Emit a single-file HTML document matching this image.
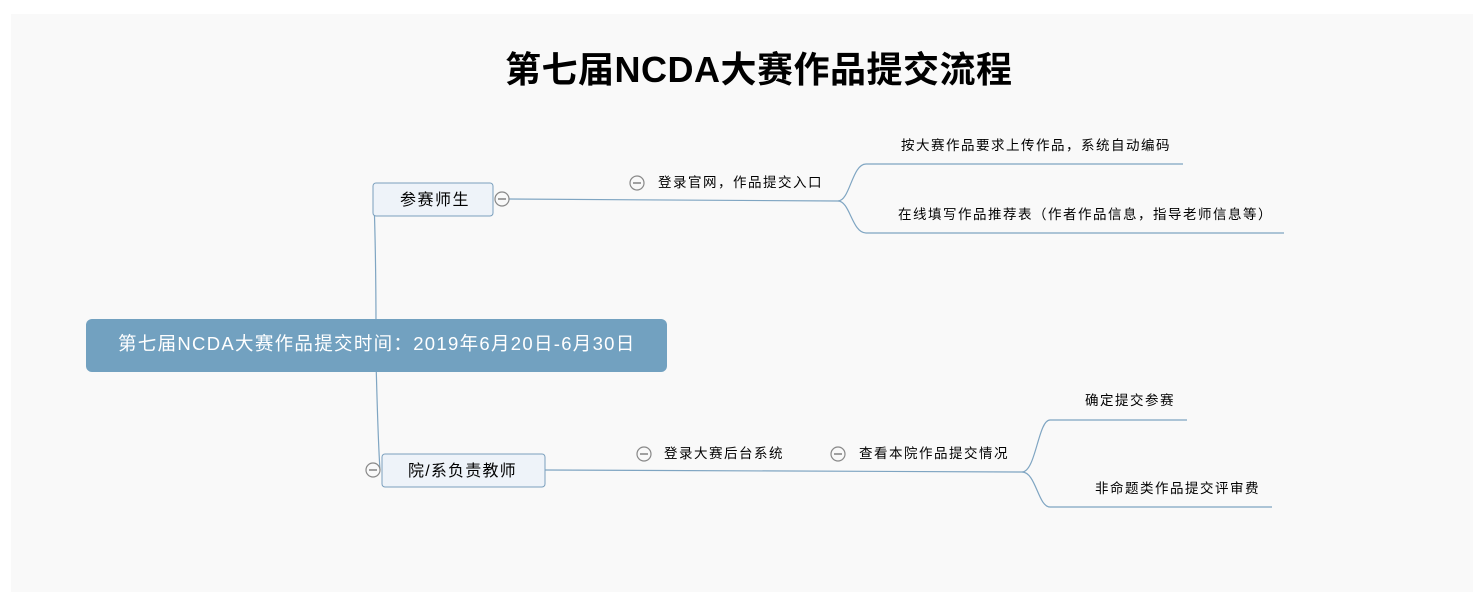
<!DOCTYPE html>
<html><head><meta charset="utf-8"><style>
body{margin:0;background:#fff;}
svg{display:block;font-family:"Liberation Sans","Noto Sans CJK SC",sans-serif;}
</style></head><body>
<svg width="1473" height="592" xmlns="http://www.w3.org/2000/svg">
<rect x="11" y="14" width="1462" height="578" fill="#f9f9f9"/>
<text x="505" y="82" font-size="36" font-weight="bold" fill="#000" letter-spacing="0.5">第七届NCDA大赛作品提交流程</text>
<g fill="none" stroke="#7fa5c2" stroke-width="1.2">
<path d="M374 199 C376 260 376 300 376 330"/>
<path d="M376 360 C377 400 378 440 380 470"/>
<path d="M502 199 L838 201 C850 201 852 164 866 164 L1183 164"/>
<path d="M838 201 C850 201 852 233 866 233 L1284 233"/>
<path d="M545 470 L1022 472 C1036 472 1038 420 1050 420 L1187 420"/>
<path d="M1022 472 C1036 472 1038 507 1050 507 L1272 507"/>
</g>
<rect x="86" y="319" width="581" height="53" rx="6" fill="#72a1c0"/>
<text x="118" y="350" font-size="18.5" fill="#fff" letter-spacing="1.3">第七届NCDA大赛作品提交时间：2019年6月20日-6月30日</text>
<rect x="373" y="183" width="120" height="33" rx="3" fill="#eef3f9" stroke="#7a9fbd"/>
<text x="400" y="205" font-size="16" letter-spacing="1.5">参赛师生</text>
<rect x="382" y="454" width="163" height="33" rx="3" fill="#eef3f9" stroke="#7a9fbd"/>
<text x="408" y="476" font-size="16" letter-spacing="1.2">院/系负责教师</text>
<g fill="#f9f9f9" stroke="#888" stroke-width="1.2">
<circle cx="502" cy="199" r="7"/><circle cx="373" cy="470" r="7"/>
<circle cx="637" cy="183" r="7"/><circle cx="644" cy="454" r="7"/><circle cx="838" cy="454" r="7"/>
</g>
<g stroke="#666" stroke-width="1.2">
<line x1="498" y1="199" x2="506" y2="199"/><line x1="369" y1="470" x2="377" y2="470"/>
<line x1="633" y1="183" x2="641" y2="183"/><line x1="640" y1="454" x2="648" y2="454"/><line x1="834" y1="454" x2="842" y2="454"/>
</g>
<g font-size="13.5" fill="#000" letter-spacing="1.5">
<text x="658" y="187">登录官网，作品提交入口</text>
<text x="664" y="458">登录大赛后台系统</text>
<text x="859" y="458">查看本院作品提交情况</text>
<text x="901" y="150">按大赛作品要求上传作品，系统自动编码</text>
<text x="898" y="219">在线填写作品推荐表（作者作品信息，指导老师信息等）</text>
<text x="1085" y="405">确定提交参赛</text>
<text x="1095" y="493">非命题类作品提交评审费</text>
</g>
</svg>
</body></html>
